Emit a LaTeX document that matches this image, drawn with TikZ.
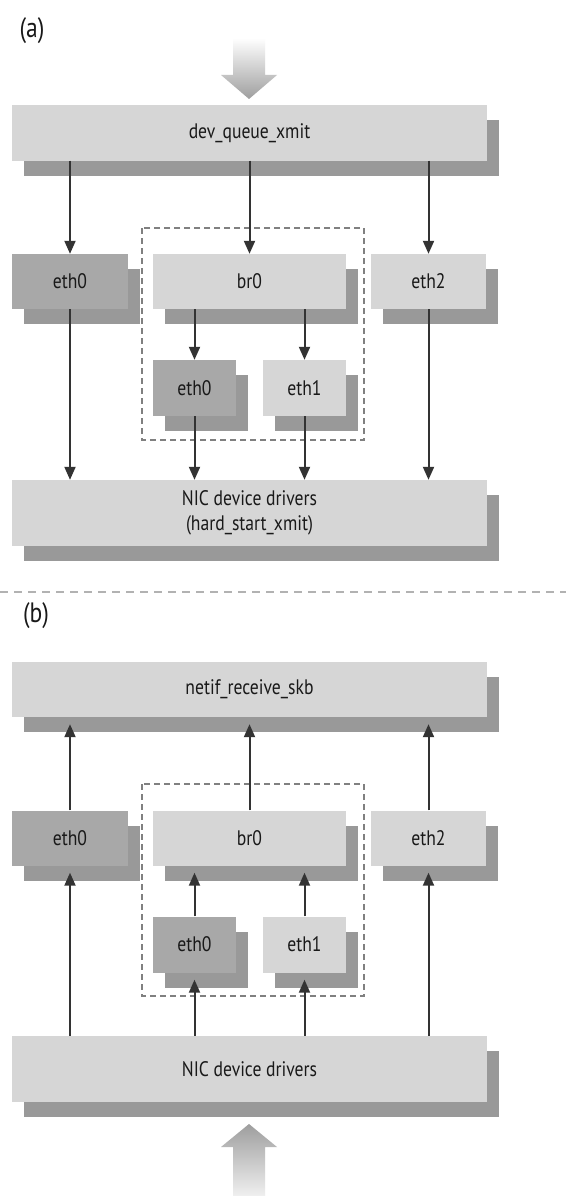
\documentclass[tikz,border=0pt]{standalone}
\usepackage{fontspec}
\setmainfont{PT Sans}[FakeStretch=0.84]
\usepackage{xcolor}
\usetikzlibrary{arrows.meta, positioning, shadows, calc}

\tikzset{
  %% Shadowed interface box
  ifbox/.style={
    rectangle, fill=#1, draw=none,
    minimum height=55pt, inner sep=0pt,
    text=black!90, font=\fontsize{21}{25}\selectfont,
    drop shadow={shadow xshift=12pt, shadow yshift=-15pt,
                 fill=black!40, opacity=1}
  },
  ifbox/.default=black!16,
  %% Darker slave device
  slave/.style={ifbox=black!34},
  %% Connector
  arr/.style={-{Triangle[length=13pt,width=11pt]},
              draw=black!80, line width=2pt},
  %% Bridge group outline
  brgroup/.style={draw=black!50, line width=1.2pt,
                  dash pattern=on 6pt off 4pt},
  %% Panel separator
  sepline/.style={draw=black!30, line width=1.5pt,
                  dash pattern=on 8pt off 6pt},
  %% Panel label
  panel/.style={font=\fontsize{28}{30}\selectfont, text=black!90},
}

\begin{document}
\begin{tikzpicture}[x=1pt, y=-1pt]

  \useasboundingbox[fill=white] (0,0) rectangle (566,1196);

  %% ---------------- (a) transmit ----------------
  \node[panel] (pa) at (32,31) {(a)};

  %% Incoming big arrow
  \shade[top color=white, bottom color=black!38]
       (233,38) -- (265,38) -- (265,75) -- (277,75) -- (249,99)
       -- (221,75) -- (233,75) -- cycle;

  \draw[brgroup] (142,228) rectangle (364,440);

  \node[ifbox, minimum width=475pt] (dq) at (249.5,133) {dev\_queue\_xmit};

  \node[slave, minimum width=116pt] (e0a) at (70,281.5)    {eth0};
  \node[ifbox, minimum width=193pt] (bra) at (249.5,281.5) {br0};
  \node[ifbox, minimum width=115pt] (e2a) at (428.5,281.5) {eth2};

  \node[slave, minimum width=83pt, minimum height=56pt] (ie0a) at (194.5,388) {eth0};
  \node[ifbox, minimum width=83pt, minimum height=56pt] (ie1a) at (304.5,388) {eth1};

  \node[ifbox, minimum width=475pt, minimum height=66pt, align=center]
       (nica) at (249.5,513) {NIC device drivers\\(hard\_start\_xmit)};

  %% Down arrows
  \draw[arr] (dq.south -| e0a.north) -- (e0a.north);
  \draw[arr] (dq.south -| bra.north) -- (bra.north);
  \draw[arr] (dq.south -| e2a.north) -- (e2a.north);
  \draw[arr] (bra.south -| ie0a.north) -- (ie0a.north);
  \draw[arr] (bra.south -| ie1a.north) -- (ie1a.north);
  \draw[arr] (e0a.south) -- (e0a.south |- nica.north);
  \draw[arr] (ie0a.south) -- (ie0a.south |- nica.north);
  \draw[arr] (ie1a.south) -- (ie1a.south |- nica.north);
  \draw[arr] (e2a.south) -- (e2a.south |- nica.north);

  %% Separator
  \coordinate (sl) at (0,592);
  \coordinate (sr) at (566,592);
  \draw[sepline] (sl) -- (sr);

  %% ---------------- (b) receive ----------------
  \node[panel] (pb) at (36,616) {(b)};

  \draw[brgroup] (142,784) rectangle (364,996);

  \node[ifbox, minimum width=475pt] (nr) at (249.5,689.5) {netif\_receive\_skb};

  \node[slave, minimum width=116pt] (e0b) at (70,838)    {eth0};
  \node[ifbox, minimum width=193pt] (brb) at (249.5,838) {br0};
  \node[ifbox, minimum width=115pt] (e2b) at (428.5,838) {eth2};

  \node[slave, minimum width=83pt, minimum height=56pt] (ie0b) at (194.5,944.5) {eth0};
  \node[ifbox, minimum width=83pt, minimum height=56pt] (ie1b) at (304.5,944.5) {eth1};

  \node[ifbox, minimum width=475pt, minimum height=66pt]
       (nicb) at (249.5,1069) {NIC device drivers};

  %% Up arrows
  \draw[arr, shorten >=7pt] (e0b.north) -- (e0b.north |- nr.south);
  \draw[arr, shorten >=7pt] (brb.north) -- (brb.north |- nr.south);
  \draw[arr, shorten >=7pt] (e2b.north) -- (e2b.north |- nr.south);
  \draw[arr, shorten >=7pt] (ie0b.north) -- (ie0b.north |- brb.south);
  \draw[arr, shorten >=7pt] (ie1b.north) -- (ie1b.north |- brb.south);
  \draw[arr, shorten >=7pt] (nicb.north -| e0b.south) -- (e0b.south);
  \draw[arr, shorten >=7pt] (nicb.north -| ie0b.south) -- (ie0b.south);
  \draw[arr, shorten >=7pt] (nicb.north -| ie1b.south) -- (ie1b.south);
  \draw[arr, shorten >=7pt] (nicb.north -| e2b.south) -- (e2b.south);

  %% Outgoing big arrow
  \shade[top color=black!38, bottom color=black!6]
       (249,1124) -- (277,1147) -- (265,1147) -- (265,1196)
       -- (233,1196) -- (233,1147) -- (221,1147) -- cycle;

\end{tikzpicture}
\end{document}
